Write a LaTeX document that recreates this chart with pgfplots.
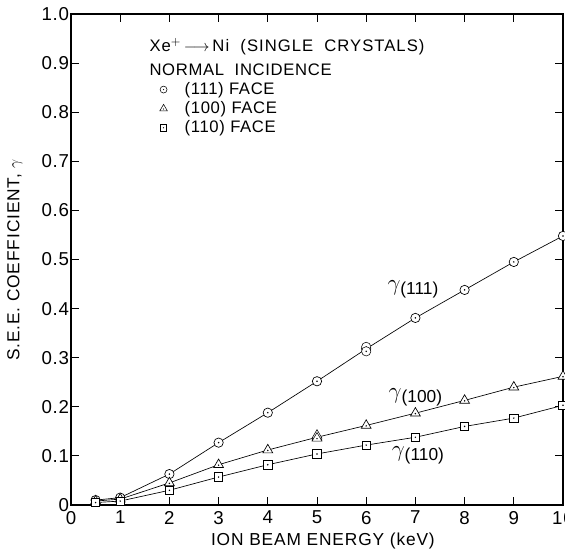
\documentclass[border=0pt]{standalone}
\usepackage{fontspec}
\setmainfont{Liberation Sans}
\usepackage{pgfplots}
\pgfplotsset{compat=1.18}
\usetikzlibrary{calc}
\pgfdeclareplotmark{dcircle}{%
  \pgfpathcircle{\pgfpointorigin}{\pgfplotmarksize}%
  \pgfsetfillcolor{white}\pgfusepathqfillstroke
  \pgfpathcircle{\pgfpointorigin}{0.18\pgfplotmarksize}%
  \pgfsetfillcolor{black}\pgfusepathqfill}
\pgfdeclareplotmark{dtriangle}{%
  \pgfpathmoveto{\pgfqpointpolar{90}{1.25\pgfplotmarksize}}%
  \pgfpathlineto{\pgfqpointpolar{210}{1.25\pgfplotmarksize}}%
  \pgfpathlineto{\pgfqpointpolar{330}{1.25\pgfplotmarksize}}%
  \pgfpathclose
  \pgfsetfillcolor{white}\pgfusepathqfillstroke
  \pgfpathcircle{\pgfqpoint{0pt}{-0.1\pgfplotmarksize}}{0.18\pgfplotmarksize}%
  \pgfsetfillcolor{black}\pgfusepathqfill}
\pgfdeclareplotmark{dsquare}{%
  \pgfpathrectanglecorners{\pgfqpoint{-0.9\pgfplotmarksize}{-0.9\pgfplotmarksize}}{\pgfqpoint{0.9\pgfplotmarksize}{0.9\pgfplotmarksize}}%
  \pgfsetfillcolor{white}\pgfusepathqfillstroke
  \pgfpathcircle{\pgfpointorigin}{0.18\pgfplotmarksize}%
  \pgfsetfillcolor{black}\pgfusepathqfill}
\pgfplotstableread{
x y
0.5 0.010
1 0.015
2 0.063
3 0.127
4 0.188
5 0.252
6 0.318
7 0.381
8 0.438
9 0.495
10 0.548
}\tA
\pgfplotstableread{
x y
6 0.322
6 0.313
}\tAextra
\pgfplotstableread{
x y
0.5 0.008
1 0.012
2 0.045
3 0.082
4 0.112
5 0.138
6 0.162
7 0.187
8 0.213
9 0.240
10 0.262
}\tB
\pgfplotstableread{
x y
5 0.142
5 0.136
}\tBextra
\pgfplotstableread{
x y
0.5 0.005
1 0.008
2 0.030
3 0.057
4 0.082
5 0.104
6 0.122
7 0.138
8 0.160
9 0.177
10 0.203
}\tC
\begin{document}
\begin{tikzpicture}
\begin{axis}[
  scale only axis,
  width=369pt, height=368.25pt,
  xmin=0, xmax=10, ymin=0, ymax=1.0,
  xtick={0,1,...,10},
  ytick={0,0.1,...,1.0},
  yticklabels={0,0.1,0.2,0.3,0.4,0.5,0.6,0.7,0.8,0.9,1.0},
  tick align=inside,
  major tick length=6pt,
  tick style={black, line width=0.6pt},
  axis line style={line width=0.8pt},
  tick label style={font=\fontsize{14}{16}\selectfont\addfontfeatures{LetterSpace=4}},
  yticklabel style={xshift=2pt},
  xticklabel style={yshift=-1pt},
  /pgf/number format/assume math mode=true,
  xlabel={ION BEAM ENERGY (keV)},
  ylabel={S.E.E. COEFFICIENT, $\gamma$},
  label style={font=\fontsize{13}{15}\selectfont\addfontfeatures{LetterSpace=5}},
  xlabel style={at={(axis description cs:0.512,0)}, anchor=center, yshift=-27pt},
  ylabel style={at={(axis description cs:0,0.499)}, anchor=center, yshift=42pt},
  legend style={draw=none, fill=none, at={(axis cs:1.8,0.866)}, anchor=north west,
    font=\fontsize{12.5}{14}\selectfont\addfontfeatures{LetterSpace=4}, row sep=0pt, inner sep=0pt,
    nodes={inner ysep=0pt, minimum height=14.3pt},
    /tikz/every even column/.style={column sep=0pt},
    /tikz/every odd column/.style={column sep=11pt}},
  legend cell align=left,
]
\addplot[black, line width=0.5pt, mark=dcircle, mark size=3.5pt, forget plot] table[x=x,y=y]{\tA};
\addplot[black, only marks, mark=dcircle, mark size=3.5pt, forget plot] table[x=x,y=y]{\tAextra};
\addplot[black, line width=0.5pt, mark=dtriangle, mark size=3.4pt, forget plot] table[x=x,y=y]{\tB};
\addplot[black, only marks, mark=dtriangle, mark size=3.4pt, forget plot] table[x=x,y=y]{\tBextra};
\addplot[black, line width=0.5pt, mark=dsquare, mark size=3.5pt, forget plot] table[x=x,y=y]{\tC};
\addlegendimage{black, only marks, mark=dcircle, mark size=2.6pt}
\addlegendentry{(111) FACE}
\addlegendimage{black, only marks, mark=dtriangle, mark size=2.6pt}
\addlegendentry{(100) FACE}
\addlegendimage{black, only marks, mark=dsquare, mark size=2.6pt}
\addlegendentry{(110) FACE}
\node[anchor=west, font=\fontsize{12.5}{14}\selectfont\addfontfeatures{LetterSpace=6}] at (axis cs:1.5,0.933) {Xe$^{+}$\,$\longrightarrow$\,Ni\ \ (SINGLE\ \ CRYSTALS)};
\node[anchor=west, font=\fontsize{12.5}{14}\selectfont\addfontfeatures{LetterSpace=4}] at (axis cs:1.5,0.886) {NORMAL\ \ INCIDENCE};
\node[font=\fontsize{16}{18}\selectfont] at (axis cs:6.95,0.44) {$\gamma$\raisebox{-0.35ex}{\fontsize{13}{15}\selectfont(111)}};
\node[font=\fontsize{16}{18}\selectfont] at (axis cs:7.0,0.22) {$\gamma$\raisebox{-0.35ex}{\fontsize{13}{15}\selectfont(100)}};
\node[font=\fontsize{16}{18}\selectfont] at (axis cs:7.05,0.102) {$\gamma$\raisebox{-0.35ex}{\fontsize{13}{15}\selectfont(110)}};
\end{axis}
\pgfresetboundingbox
\path[use as bounding box] ($(current axis.south west)+(-53.25pt,-33.75pt)$) rectangle ($(current axis.north east)+(1.5pt,10.5pt)$);
\end{tikzpicture}
\end{document}
